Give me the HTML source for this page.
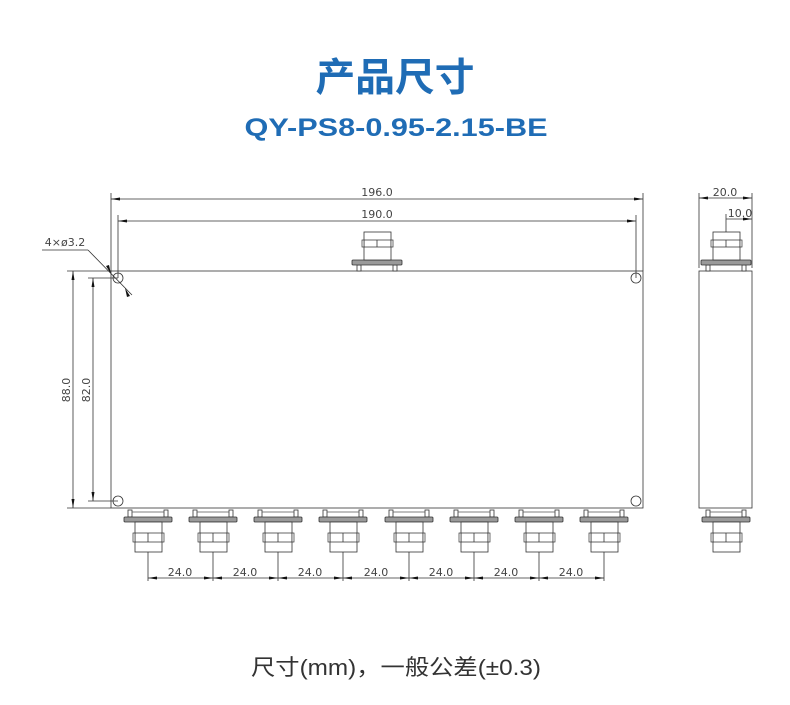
<!DOCTYPE html>
<html><head><meta charset="utf-8"><style>
html,body{margin:0;padding:0;background:#fff;}
svg{display:block;}
</style></head><body>
<svg width="790" height="705" viewBox="0 0 790 705" xmlns="http://www.w3.org/2000/svg">
<defs>
<g id="cb">
 <rect x="-20" y="2" width="4" height="7" fill="#fff" stroke="#333" stroke-width="0.8"/>
 <rect x="16" y="2" width="4" height="7" fill="#fff" stroke="#333" stroke-width="0.8"/>
 <line x1="-16" y1="4" x2="16" y2="4" stroke="#555" stroke-width="0.8"/>
 <rect x="-24" y="9" width="48" height="5" rx="1" fill="#9a9a9a" stroke="#333" stroke-width="0.8"/>
 <rect x="-13" y="14" width="27" height="30" fill="#fff" stroke="#333" stroke-width="0.8"/>
 <line x1="-13" y1="25" x2="14" y2="25" stroke="#333" stroke-width="0.8"/>
 <line x1="-13" y1="34" x2="14" y2="34" stroke="#333" stroke-width="0.8"/>
 <rect x="-15" y="25" width="2" height="9" fill="#fff" stroke="#333" stroke-width="0.7"/>
 <rect x="14" y="25" width="2" height="9" fill="#fff" stroke="#333" stroke-width="0.7"/>
 <line x1="0" y1="25" x2="0" y2="34" stroke="#333" stroke-width="0.8"/>
</g>
<g id="ct">
 <rect x="-20" y="-6" width="4" height="6" fill="#fff" stroke="#333" stroke-width="0.8"/>
 <rect x="16" y="-6" width="4" height="6" fill="#fff" stroke="#333" stroke-width="0.8"/>
 <rect x="-25" y="-11" width="50" height="5" rx="1" fill="#9a9a9a" stroke="#333" stroke-width="0.8"/>
 <rect x="-13" y="-39" width="27" height="28" fill="#fff" stroke="#333" stroke-width="0.8"/>
 <line x1="-13" y1="-31" x2="14" y2="-31" stroke="#333" stroke-width="0.8"/>
 <line x1="-13" y1="-24" x2="14" y2="-24" stroke="#333" stroke-width="0.8"/>
 <rect x="-15" y="-31" width="2" height="7" fill="#fff" stroke="#333" stroke-width="0.7"/>
 <rect x="14" y="-31" width="2" height="7" fill="#fff" stroke="#333" stroke-width="0.7"/>
 <line x1="0" y1="-31" x2="0" y2="-24" stroke="#333" stroke-width="0.8"/>
</g>
</defs>

<text x="395" y="91" text-anchor="middle" font-family="'Liberation Sans','Noto Sans CJK SC',sans-serif" font-weight="bold" font-size="39" fill="#1f6cb5" textLength="159" lengthAdjust="spacingAndGlyphs">产品尺寸</text>
<text x="396" y="136" text-anchor="middle" font-family="'Liberation Sans','Noto Sans CJK SC',sans-serif" font-weight="bold" font-size="25" fill="#1f6cb5" textLength="303" lengthAdjust="spacingAndGlyphs">QY-PS8-0.95-2.15-BE</text>

<g stroke="#333" stroke-width="0.8" fill="none">
 <rect x="111" y="271" width="532" height="237" fill="#fff"/>
 <circle cx="118" cy="278" r="5"/><circle cx="636" cy="278" r="5"/>
 <circle cx="118" cy="501" r="5"/><circle cx="636" cy="501" r="5"/>
 <line x1="111" y1="193" x2="111" y2="271"/><line x1="643" y1="193" x2="643" y2="271"/>
 <line x1="111" y1="199" x2="643" y2="199"/>
 <line x1="118" y1="215" x2="118" y2="278"/><line x1="636" y1="215" x2="636" y2="278"/>
 <line x1="118" y1="221" x2="636" y2="221"/>
 <line x1="67" y1="271" x2="111" y2="271"/><line x1="67" y1="508" x2="111" y2="508"/>
 <line x1="73" y1="271" x2="73" y2="508"/>
 <line x1="88" y1="278" x2="118" y2="278"/><line x1="88" y1="501" x2="118" y2="501"/>
 <line x1="93" y1="278" x2="93" y2="501"/>
 <line x1="42" y1="250" x2="88" y2="250"/>
 <line x1="88" y1="250" x2="132" y2="295"/>
 <rect x="699" y="271" width="53" height="237" fill="#fff"/>
 <line x1="699" y1="193" x2="699" y2="268"/><line x1="752" y1="193" x2="752" y2="268"/>
 <line x1="699" y1="198" x2="752" y2="198"/>
 <line x1="726" y1="214" x2="726" y2="232"/>
 <line x1="726" y1="219" x2="752" y2="219"/>
 <line x1="148" y1="552" x2="148" y2="581"/>
 <line x1="213" y1="552" x2="213" y2="581"/>
 <line x1="278" y1="552" x2="278" y2="581"/>
 <line x1="343" y1="552" x2="343" y2="581"/>
 <line x1="409" y1="552" x2="409" y2="581"/>
 <line x1="474" y1="552" x2="474" y2="581"/>
 <line x1="539" y1="552" x2="539" y2="581"/>
 <line x1="604" y1="552" x2="604" y2="581"/>
 <line x1="148" y1="578" x2="604" y2="578"/>
</g>
<g fill="#111">
 <polygon points="111,199 120,197.5 120,200.5"/><polygon points="643,199 634,197.5 634,200.5"/>
 <polygon points="118,221 127,219.5 127,222.5"/><polygon points="636,221 627,219.5 627,222.5"/>
 <polygon points="73,271 71.5,280 74.5,280"/><polygon points="73,508 71.5,499 74.5,499"/>
 <polygon points="93,278 91.5,287 94.5,287"/><polygon points="93,501 91.5,492 94.5,492"/>
 <polygon points="111,274 106,266 109,265"/><polygon points="125,288 130,296 127,297"/>
 <polygon points="699,198 708,196.5 708,199.5"/><polygon points="752,198 743,196.5 743,199.5"/>
 <polygon points="752,219 743,217.5 743,220.5"/>
 <polygon points="148,578 157,576.5 157,579.5"/>
 <polygon points="213,578 204,576.5 204,579.5"/><polygon points="213,578 222,576.5 222,579.5"/>
 <polygon points="278,578 269,576.5 269,579.5"/><polygon points="278,578 287,576.5 287,579.5"/>
 <polygon points="343,578 334,576.5 334,579.5"/><polygon points="343,578 352,576.5 352,579.5"/>
 <polygon points="409,578 400,576.5 400,579.5"/><polygon points="409,578 418,576.5 418,579.5"/>
 <polygon points="474,578 465,576.5 465,579.5"/><polygon points="474,578 483,576.5 483,579.5"/>
 <polygon points="539,578 530,576.5 530,579.5"/><polygon points="539,578 548,576.5 548,579.5"/>
 <polygon points="604,578 595,576.5 595,579.5"/>
</g>

<use href="#ct" x="377" y="271"/>
<use href="#ct" x="726" y="271"/>
<use href="#cb" x="148" y="508"/>
<use href="#cb" x="213" y="508"/>
<use href="#cb" x="278" y="508"/>
<use href="#cb" x="343" y="508"/>
<use href="#cb" x="409" y="508"/>
<use href="#cb" x="474" y="508"/>
<use href="#cb" x="539" y="508"/>
<use href="#cb" x="604" y="508"/>
<use href="#cb" x="726" y="508"/>

<g font-family="'DejaVu Sans','Liberation Sans',sans-serif" font-size="11" fill="#444" text-anchor="middle">
 <text x="377" y="196">196.0</text>
 <text x="377" y="218">190.0</text>
 <text x="725" y="196">20.0</text>
 <text x="740" y="217">10.0</text>
 <text x="65" y="246">4×ø3.2</text>
 <text x="180" y="576">24.0</text>
 <text x="245" y="576">24.0</text>
 <text x="310" y="576">24.0</text>
 <text x="376" y="576">24.0</text>
 <text x="441" y="576">24.0</text>
 <text x="506" y="576">24.0</text>
 <text x="571" y="576">24.0</text>
 <text transform="translate(70,390) rotate(-90)">88.0</text>
 <text transform="translate(90,390) rotate(-90)">82.0</text>
</g>

<text x="396" y="675" text-anchor="middle" font-family="'Liberation Sans','Noto Sans CJK SC',sans-serif" font-size="22" fill="#333" textLength="290" lengthAdjust="spacingAndGlyphs">尺寸(mm)，一般公差(±0.3)</text>
</svg>
</body></html>
